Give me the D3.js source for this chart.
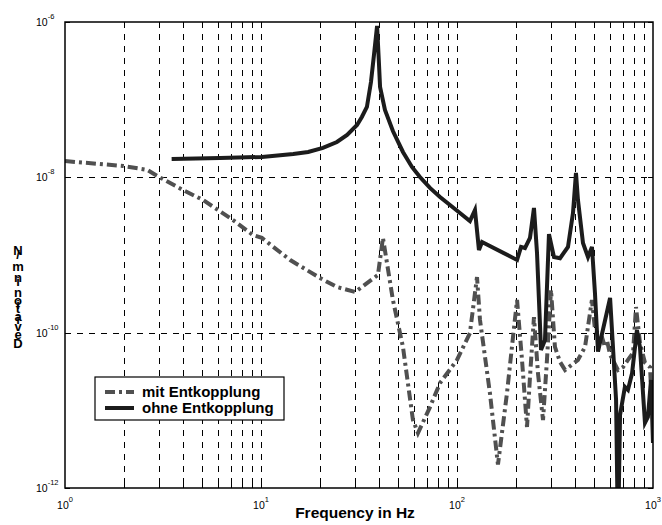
<!DOCTYPE html>
<html lang="en">
<head>
<meta charset="UTF-8">
<script src="https://cdnjs.cloudflare.com/ajax/libs/d3/7.8.5/d3.min.js"></script>
<title>Deviation vs frequency</title>
<style>
    body { margin: 0; background: #fff; }
    svg { display: block; font-family: 'Liberation Sans', Arial, sans-serif; }
    .grid line { stroke: #000; stroke-width: 1; stroke-dasharray: 6,6; shape-rendering: crispEdges; }
    .tickmarks path { display: none; }
    .tickmarks line { stroke: #000; stroke-width: 1; shape-rendering: crispEdges; }
</style>
</head>
<body>
<svg id="chart"></svg>
<script>
// ohne Entkopplung (solid)
const freqOhne = [3.5, 6.18, 10.1, 14.6, 17.4, 20.7, 24.4, 27.5, 30.9, 32.7, 34.7, 36.4, 37.7, 39.1, 39.9, 40.5, 42.9, 47.1, 53, 58.9,
    64.7, 72.8, 81.9, 92.1, 103.5, 116.4, 123.5, 129.4, 134.2, 202.5, 212.2, 222.2, 235.7, 247, 256, 268.3, 281.1, 294.6,
    312.5, 335.5, 368.3, 390.6, 404.6, 414.2, 439.3, 465.9, 488.2, 505.8, 524, 604, 648, 663, 679, 719, 745, 782, 828, 858,
    910, 942, 977, 1000]
const valOhne = [1.72e-8, 1.77e-8, 1.83e-8, 2.0e-8, 2.12e-8, 2.39e-8, 2.85e-8, 3.51e-8, 4.72e-8, 5.98e-8, 8.05e-8, 1.69e-7, 3.76e-7, 8.9e-7, 3.24e-7, 1.46e-7, 7.36e-8, 3.95e-8, 2.12e-8, 1.36e-8,
    1.01e-8, 7.3e-9, 5.58e-9, 4.4e-9, 3.47e-9, 2.74e-9, 3.8e-9, 1.16e-9, 1.47e-9, 8.63e-10, 1.27e-9, 1.23e-9, 1.66e-9, 4.03e-9, 1.06e-9, 6e-11, 8e-11, 1.86e-9,
    9.4e-10, 9.1e-10, 1.27e-9, 3.47e-9, 1.14e-8, 5.1e-9, 1.43e-9, 9.4e-10, 1.27e-9, 3.2e-10, 5.7e-11, 2.8e-10, 1.36e-11, 2e-13, 8.7e-12, 2e-11, 1.83e-11, 3e-11, 1.08e-10, 6.5e-11,
    6.9e-12, 8.2e-12, 2.46e-11, 3.8e-12]

// mit Entkopplung (dash-dot)
const freqMit = [1, 1.98, 2.62, 3.02, 4.0, 5.06, 7.2, 9.1, 10.1, 14.1, 20, 24.4, 30.2, 39.5, 41.9, 47.1, 53, 59.6, 63.2, 72.8,
    81.9, 100, 116.4, 126.5, 131, 147.2, 161.8, 179.9, 193.1, 202.5, 214.6, 227.6, 235.7, 247, 258.9, 274.7, 287.7, 301.7,
    316, 335.5, 356, 414, 450, 488, 506, 549, 569, 582, 604, 663, 703, 745, 791, 819, 858, 910, 966, 988]
const valMit = [1.62e-8, 1.4e-8, 1.25e-8, 1.01e-8, 6.87e-9, 5.11e-9, 2.82e-9, 1.81e-9, 1.66e-9, 8.6e-10, 5.06e-10, 3.87e-10, 3.34e-10, 5.53e-10, 1.66e-9, 2.64e-10, 6.55e-11, 7.5e-12, 5.1e-12, 1.1e-11,
    2.25e-11, 4.45e-11, 9.9e-11, 5.2e-10, 1.46e-10, 1.67e-11, 2e-12, 1.67e-11, 8.8e-11, 2.64e-10, 4.45e-11, 6.1e-12, 2.7e-11, 1.59e-10, 3e-11, 7.5e-12, 4.45e-11, 3.55e-10,
    6.55e-11, 4.2e-11, 3.3e-11, 4.45e-11, 6.55e-11, 2.64e-10, 1.08e-10, 8.8e-11, 6.55e-11, 8e-11, 5.2e-11, 3.3e-11, 3.6e-11, 4.45e-11, 5.5e-11, 2.14e-10, 7.4e-11, 4.1e-11, 3.6e-11, 1e-11]

const xTicks = [1, 10, 100, 1000]
const xTickExp = ['0', '1', '2', '3']
const yTicks = [1e-6, 1e-8, 1e-10, 1e-12]
const yTickExp = ['-6', '-8', '-10', '-12']
const xGrid = [2, 3, 4, 5, 6, 7, 8, 9, 10, 20, 30, 40, 50, 60, 70, 80, 90, 100, 200, 300, 400, 500, 600, 700, 800, 900]
const yGrid = [1e-8, 1e-10]
const legendLabels = ['mit Entkopplung', 'ohne Entkopplung']

const W = 662, H = 525
const margin = { top: 22, right: 9, bottom: 37, left: 65 }

const svg = d3.select('#chart').attr('width', W).attr('height', H)

const x = d3.scaleLog().domain([1, 1000]).range([margin.left, W - margin.right])
const y = d3.scaleLog().domain([1e-12, 1e-6]).range([H - margin.bottom, margin.top])

svg.append('clipPath').attr('id', 'plotclip')
    .append('rect')
    .attr('x', x(1)).attr('y', y(1e-6))
    .attr('width', x(1000) - x(1)).attr('height', y(1e-12) - y(1e-6))

// grid
svg.append('g').attr('class', 'grid')
    .selectAll('line').data(xGrid).enter().append('line')
    .attr('x1', d => Math.round(x(d)) + 0.5).attr('x2', d => Math.round(x(d)) + 0.5)
    .attr('y1', y(1e-6)).attr('y2', y(1e-12))
svg.append('g').attr('class', 'grid')
    .selectAll('line').data(yGrid).enter().append('line')
    .attr('x1', x(1)).attr('x2', x(1000))
    .attr('y1', d => Math.round(y(d)) + 0.5).attr('y2', d => Math.round(y(d)) + 0.5)

// inward tick marks on all four sides
svg.append('g').attr('class', 'tickmarks')
    .attr('transform', 'translate(0,' + y(1e-12) + ')')
    .call(d3.axisBottom(x).tickValues(xGrid).tickSize(-5).tickFormat(''))
svg.append('g').attr('class', 'tickmarks')
    .attr('transform', 'translate(0,' + y(1e-6) + ')')
    .call(d3.axisTop(x).tickValues(xGrid).tickSize(-5).tickFormat(''))
svg.append('g').attr('class', 'tickmarks')
    .attr('transform', 'translate(' + x(1) + ',0)')
    .call(d3.axisLeft(y).tickValues(yTicks).tickSize(-5).tickFormat(''))
svg.append('g').attr('class', 'tickmarks')
    .attr('transform', 'translate(' + x(1000) + ',0)')
    .call(d3.axisRight(y).tickValues(yTicks).tickSize(-5).tickFormat(''))

// curves
const line = d3.line().x(d => x(d[0])).y(d => y(d[1]))
const plot = svg.append('g').attr('clip-path', 'url(#plotclip)')

plot.append('path')
    .datum(d3.zip(freqMit, valMit))
    .attr('d', line)
    .attr('fill', 'none')
    .attr('stroke', '#505050')
    .attr('stroke-width', 4)
    .attr('stroke-dasharray', '10,4,3,4')

plot.append('path')
    .datum(d3.zip(freqOhne, valOhne))
    .attr('d', line)
    .attr('fill', 'none')
    .attr('stroke', '#1c1c1c')
    .attr('stroke-width', 4)

// axis box
svg.append('rect')
    .attr('x', x(1)).attr('y', y(1e-6))
    .attr('width', x(1000) - x(1)).attr('height', y(1e-12) - y(1e-6))
    .attr('fill', 'none').attr('stroke', '#000').attr('stroke-width', 1.5)

// tick labels with superscript exponents
const xl = svg.append('g').selectAll('text').data(xTicks).enter().append('text')
    .attr('x', d => x(d)).attr('y', 509)
    .attr('text-anchor', 'middle')
    .attr('font-size', 10.5)
xl.append('tspan').text('10')
xl.append('tspan').attr('dy', -7).attr('font-size', 7.5).text((d, i) => xTickExp[i])

const yl = svg.append('g').selectAll('text').data(yTicks).enter().append('text')
    .attr('x', 36).attr('y', d => y(d) + 4)
    .attr('font-size', 10.5)
yl.append('tspan').text('10')
yl.append('tspan').attr('dy', -7).attr('font-size', 7.5).text((d, i) => yTickExp[i])

// x label
svg.append('text')
    .attr('x', 355).attr('y', 518)
    .attr('text-anchor', 'middle')
    .attr('font-size', 15.5).attr('font-weight', 'bold')
    .text('Frequency in Hz')

// y label: upright characters stacked upward
const yLabel = 'Deviation in m/N'
const yLab = svg.append('g').attr('font-size', 13).attr('font-weight', 'bold')
let pos = 348
yLabel.split('').forEach(ch => {
    const t = yLab.append('text')
        .attr('x', 18).attr('y', pos)
        .attr('text-anchor', 'middle')
        .text(ch === ' ' ? '\u00a0' : ch)
    pos -= t.node().getComputedTextLength()
})

// legend
const leg = svg.append('g')
leg.append('rect')
    .attr('x', 95).attr('y', 377).attr('width', 189).attr('height', 43)
    .attr('fill', '#fff').attr('stroke', '#000').attr('stroke-width', 1.2)
const legStyles = [
    { stroke: '#505050', dash: '10,4,3,4' },
    { stroke: '#1c1c1c', dash: null }
]
legendLabels.forEach((lab, i) => {
    const ly = 392 + i * 16
    leg.append('line')
        .attr('x1', 105).attr('x2', 134).attr('y1', ly).attr('y2', ly)
        .attr('stroke', legStyles[i].stroke).attr('stroke-width', 4)
        .attr('stroke-dasharray', legStyles[i].dash)
    leg.append('text')
        .attr('x', 142).attr('y', ly + 5)
        .attr('font-size', 15).attr('font-weight', 'bold')
        .text(lab)
})
</script>
</body>
</html>
